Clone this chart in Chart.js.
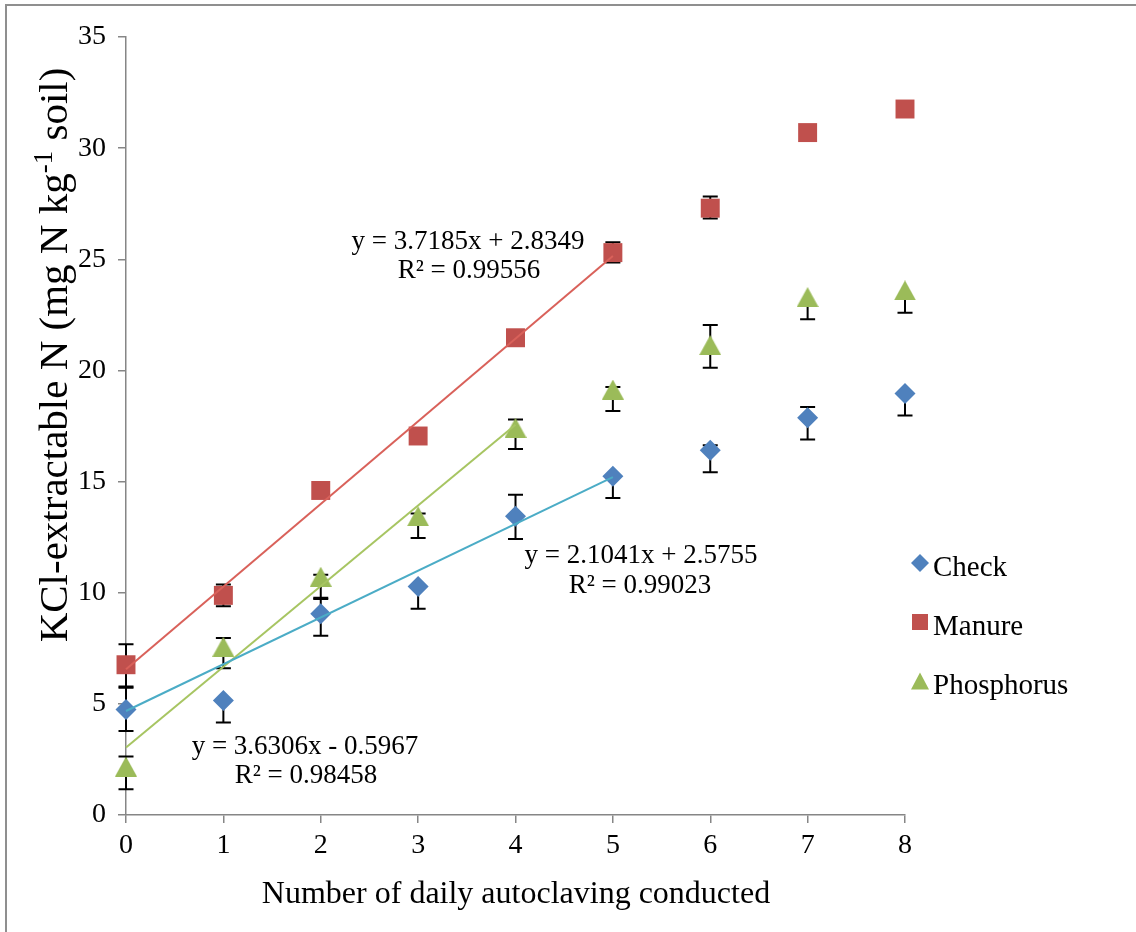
<!DOCTYPE html>
<html>
<head>
<meta charset="utf-8">
<script src="https://cdn.jsdelivr.net/npm/chart.js@4.4.1/dist/chart.umd.min.js"></script>
<style>
html,body{margin:0;padding:0;background:#fff;}
#wrap{position:relative;width:1136px;height:932px;}
</style>
</head>
<body>
<div id="wrap"><canvas id="c" width="1136" height="932"></canvas></div>
<script>
// ---------------- data ----------------
const categories = [0, 1, 2, 3, 4, 5, 6, 7, 8];
const seriesNames = ['Check', 'Manure', 'Phosphorus'];

const checkValues      = [4.75, 5.15, 9.05, 10.28, 13.44, 15.24, 16.41, 17.87, 18.96];
const checkErrPlus     = [0.98, 0, 0.72, 0, 0.97, 0, 0.22, 0.48, 0];
const checkErrMinus    = [0.97, 0.99, 0.99, 1.0, 1.02, 0.98, 0.99, 0.98, 0.99];

const manureValues     = [6.76, 9.88, 14.6, 17.05, 21.47, 25.3, 27.3, 30.7, 31.76];
const manureErrPlus    = [0.92, 0.49, 0, 0, 0, 0.47, 0.52, 0, 0];
const manureErrMinus   = [0.98, 0.49, 0, 0, 0, 0.45, 0.47, 0, 0];

const phosphorusValues   = [2.18, 7.57, 10.72, 13.44, 17.42, 19.14, 21.14, 23.3, 23.6];
const phosphorusErrPlus  = [0.45, 0.39, 0.09, 0.12, 0.37, 0.12, 0.9, 0, 0];
const phosphorusErrMinus = [1.02, 0.97, 1.0, 0.98, 0.95, 0.97, 1.02, 1.0, 1.0];

// linear trendlines as printed (Excel fitted them with x counted from 1)
const trendSlopes     = [2.1041, 3.7185, 3.6306];
const trendIntercepts = [2.5755, 2.8349, -0.5967];
const trendLastX      = [5, 5, 4];
const trendEquations  = ['y = 2.1041x + 2.5755', 'y = 3.7185x + 2.8349', 'y = 3.6306x - 0.5967'];
const trendR2         = ['R\u00B2 = 0.99023', 'R\u00B2 = 0.99556', 'R\u00B2 = 0.98458'];

const xTickValues = [0, 1, 2, 3, 4, 5, 6, 7, 8];
const yTickValues = [0, 5, 10, 15, 20, 25, 30, 35];
const xTitle = 'Number of daily autoclaving conducted';
const yTitleMain = 'KCl-extractable N (mg N kg';
const yTitleSup = '-1';
const yTitleEnd = ' soil)';

// ---------------- styling ----------------
const FONT = '"Liberation Serif", "Times New Roman", Times, serif';
const markerColors = ['#4F81BD', '#C0504D', '#9BBB59'];
const trendColors  = ['#4BACC6', '#D9615A', '#A7C562'];
const axisColor = '#868686';

function triCanvas(w, h, color) {
  const c = document.createElement('canvas');
  c.width = w; c.height = h;
  const g = c.getContext('2d');
  g.fillStyle = color;
  g.beginPath();
  g.moveTo(w / 2, 0); g.lineTo(w, h); g.lineTo(0, h); g.closePath();
  g.fill();
  return c;
}
const triMarker = triCanvas(22, 20, markerColors[2]);

const valueSets = [checkValues, manureValues, phosphorusValues];
const plusSets  = [checkErrPlus, manureErrPlus, phosphorusErrPlus];
const minusSets = [checkErrMinus, manureErrMinus, phosphorusErrMinus];

const toPoints = vals => categories.map((x, i) => ({ x: x, y: vals[i] }));
const trendPoints = k => [0, trendLastX[k]].map(x => ({ x: x, y: trendSlopes[k] * (x + 1) + trendIntercepts[k] }));

const datasets = [];
for (let k = 0; k < 3; k++) {
  datasets.push({
    label: seriesNames[k] + ' trend',
    data: trendPoints(k),
    showLine: true,
    borderColor: trendColors[k],
    borderWidth: 2,
    pointRadius: 0,
    fill: false,
    order: 0,
    clip: false
  });
}
const pointStyles = ['rectRot', 'rect', triMarker];
const pointRadii = [10.5, 13.4, 11];
for (let k = 0; k < 3; k++) {
  datasets.push({
    label: seriesNames[k],
    data: toPoints(valueSets[k]),
    showLine: false,
    pointStyle: pointStyles[k],
    pointRadius: pointRadii[k],
    pointBackgroundColor: markerColors[k],
    pointBorderColor: markerColors[k],
    pointBorderWidth: 0,
    order: 1,
    clip: false
  });
}

// ---------------- plugins ----------------
const framePlugin = {
  id: 'frame',
  beforeDraw(chart) {
    const ctx = chart.ctx;
    ctx.save();
    ctx.fillStyle = '#fff';
    ctx.fillRect(0, 0, chart.width, chart.height);
    ctx.strokeStyle = '#8f8f8f';
    ctx.lineWidth = 2;
    ctx.beginPath();
    ctx.moveTo(6, chart.height);
    ctx.lineTo(6, 5);
    ctx.lineTo(chart.width, 5);
    ctx.stroke();
    ctx.restore();
  }
};

const errorBarPlugin = {
  id: 'errorBars',
  beforeDatasetsDraw(chart) {
    const ctx = chart.ctx;
    const xs = chart.scales.x, ys = chart.scales.y;
    ctx.save();
    ctx.strokeStyle = '#000';
    ctx.lineWidth = 2;
    const cap = 7.5;
    for (let k = 0; k < 3; k++) {
      categories.forEach((c, i) => {
        const v = valueSets[k][i];
        const px = xs.getPixelForValue(c);
        const pv = ys.getPixelForValue(v);
        const ends = [];
        if (plusSets[k][i] > 0) ends.push(ys.getPixelForValue(v + plusSets[k][i]));
        if (minusSets[k][i] > 0) ends.push(ys.getPixelForValue(v - minusSets[k][i]));
        ends.forEach(py => {
          ctx.beginPath();
          ctx.moveTo(px, pv); ctx.lineTo(px, py);
          ctx.moveTo(px - cap, py); ctx.lineTo(px + cap, py);
          ctx.stroke();
        });
      });
    }
    ctx.restore();
  }
};

const textPlugin = {
  id: 'texts',
  afterDraw(chart) {
    const ctx = chart.ctx;
    ctx.save();
    ctx.fillStyle = '#000';
    // trendline equations
    ctx.font = '27px ' + FONT;
    ctx.textAlign = 'center';
    ctx.textBaseline = 'middle';
    const eqPos = [[641, 556, 640, 586], [468, 242, 469, 271], [305, 747, 306, 776]];
    for (let k = 0; k < 3; k++) {
      ctx.fillText(trendEquations[k], eqPos[k][0], eqPos[k][1]);
      ctx.fillText(trendR2[k], eqPos[k][2], eqPos[k][3]);
    }
    // x-axis title
    ctx.font = '32px ' + FONT;
    ctx.fillText(xTitle, 516, 895);
    // y-axis title with superscript
    ctx.translate(53, 355);
    ctx.rotate(-Math.PI / 2);
    ctx.textAlign = 'left';
    ctx.textBaseline = 'alphabetic';
    const mainF = '41px ' + FONT, supF = '27px ' + FONT;
    ctx.font = mainF; const w1 = ctx.measureText(yTitleMain).width; const w3 = ctx.measureText(yTitleEnd).width;
    ctx.font = supF; const w2 = ctx.measureText(yTitleSup).width;
    const total = w1 + w2 + w3;
    let x0 = -total / 2;
    const base = 14;
    ctx.font = mainF; ctx.fillText(yTitleMain, x0, base);
    ctx.font = supF; ctx.fillText(yTitleSup, x0 + w1, base - 15);
    ctx.font = mainF; ctx.fillText(yTitleEnd, x0 + w1 + w2, base);
    ctx.restore();

    // legend
    ctx.save();
    const lx = 920, ly = [563, 622, 681], tb = [576, 635, 693.5];
    for (let k = 0; k < 3; k++) {
      ctx.fillStyle = markerColors[k];
      ctx.beginPath();
      const y = ly[k];
      if (k === 0) {
        ctx.moveTo(lx, y - 9); ctx.lineTo(lx + 9, y); ctx.lineTo(lx, y + 9); ctx.lineTo(lx - 9, y); ctx.closePath();
      } else if (k === 1) {
        ctx.rect(lx - 8, y - 8, 16, 16);
      } else {
        ctx.moveTo(lx, y - 8.5); ctx.lineTo(lx + 9, y + 8.5); ctx.lineTo(lx - 9, y + 8.5); ctx.closePath();
      }
      ctx.fill();
      ctx.fillStyle = '#000';
      ctx.font = '29px ' + FONT;
      ctx.textAlign = 'left';
      ctx.textBaseline = 'alphabetic';
      ctx.fillText(seriesNames[k], 933, tb[k]);
    }
    ctx.restore();
  }
};

// ---------------- chart ----------------
new Chart(document.getElementById('c'), {
  type: 'scatter',
  data: { datasets: datasets },
  options: {
    responsive: false,
    devicePixelRatio: 1,
    animation: false,
    layout: { padding: { top: 37, right: 231, left: 0, bottom: 0 } },
    plugins: { legend: { display: false }, tooltip: { enabled: false } },
    scales: {
      x: {
        type: 'linear', min: 0, max: 8,
        afterBuildTicks: s => { s.ticks = xTickValues.map(v => ({ value: v })); },
        afterFit: s => { s.height = 117; },
        ticks: { color: '#000', font: { family: FONT, size: 28 }, padding: 6, maxRotation: 0 },
        grid: { drawOnChartArea: false, drawTicks: true, tickLength: 8, color: axisColor, lineWidth: 1.5 },
        border: { display: true, color: axisColor, width: 1.5 }
      },
      y: {
        type: 'linear', min: 0, max: 35,
        afterBuildTicks: s => { s.ticks = yTickValues.map(v => ({ value: v })); },
        afterFit: s => { s.width = 126; },
        ticks: { color: '#000', font: { family: FONT, size: 28 }, padding: 12 },
        grid: { drawOnChartArea: false, drawTicks: true, tickLength: 8, color: axisColor, lineWidth: 1.5 },
        border: { display: true, color: axisColor, width: 1.5 }
      }
    }
  },
  plugins: [framePlugin, errorBarPlugin, textPlugin]
});
</script>
</body>
</html>
